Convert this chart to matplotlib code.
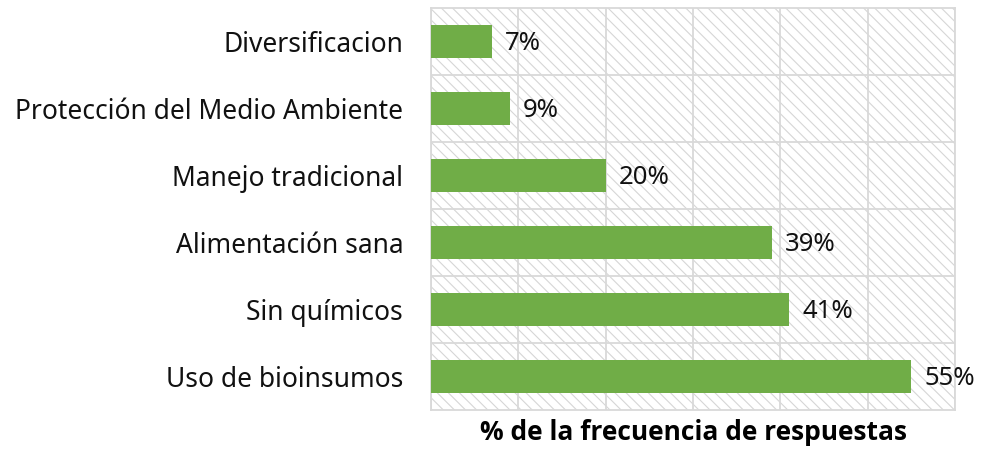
import matplotlib.pyplot as plt
from matplotlib.patches import Rectangle

categories = ["Uso de bioinsumos", "Sin químicos", "Alimentación sana",
              "Manejo tradicional", "Protección del Medio Ambiente", "Diversificacion"]
values = [55, 41, 39, 20, 9, 7]
labels = ["55%", "41%", "39%", "20%", "9%", "7%"]

plt.rcParams['font.family'] = ['Noto Sans', 'DejaVu Sans']
plt.rcParams['hatch.linewidth'] = 0.8
plt.rcParams['hatch.color'] = '#d6d6d6'

fig = plt.figure(figsize=(9.84, 4.5), dpi=100)
ax = fig.add_axes([431/984, 1-410/450, 524/984, 402/450])

# hatched plot area background
ax.add_patch(Rectangle((0, 0), 1, 1, transform=ax.transAxes, facecolor='white',
                       edgecolor='#d6d6d6', hatch='\\\\\\', lw=0, zorder=0))

ypos = list(range(len(categories)))
ax.barh(ypos, values, height=0.48, color='#70ad47', zorder=3)
for y, v, lab in zip(ypos, values, labels):
    ax.text(v + 1.5, y - 0.03, lab, va='center', ha='left', fontsize=18.5, color='#111111', zorder=4)

ax.set_xlim(0, 60)
ax.set_ylim(-0.5, len(categories) - 0.5)
ax.set_xticks(range(0, 61, 10))
ax.set_xticklabels([])
ax.set_yticks(ypos)
ax.set_yticklabels(categories, fontsize=19, color='#111111')
ax.set_yticks([y + 0.5 for y in ypos[:-1]], minor=True)
ax.tick_params(axis='both', which='both', length=0)
ax.tick_params(axis='y', pad=20)
ax.grid(axis='x', color='#d9d9d9', lw=1.3, zorder=1)
ax.grid(axis='y', which='minor', color='#d9d9d9', lw=1.3, zorder=1)
for s in ax.spines.values():
    s.set_color('#d9d9d9')
    s.set_linewidth(1.3)

ax.set_xlabel("% de la frecuencia de respuestas", fontsize=19, fontweight='bold',
              family=['Open Sans', 'DejaVu Sans'], labelpad=3)

fig.savefig("out.png", dpi=100)
